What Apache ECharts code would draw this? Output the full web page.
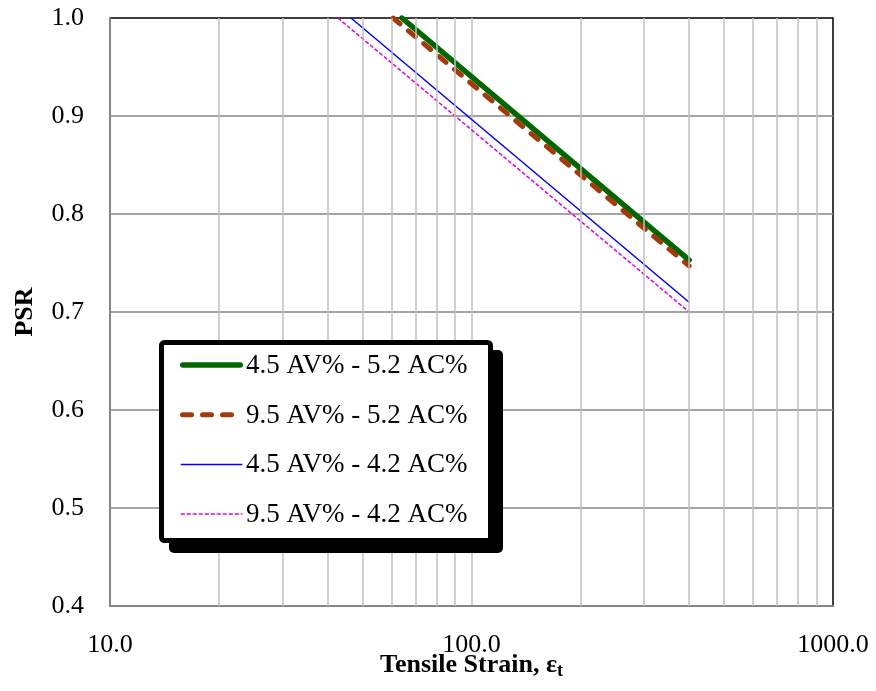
<!DOCTYPE html>
<html>
<head>
<meta charset="utf-8">
<script src="https://cdn.jsdelivr.net/npm/echarts@6/dist/echarts.min.js"></script>
<style>
  html, body { margin: 0; padding: 0; background: #fff; }
  #chart { width: 876px; height: 691px; }
</style>
</head>
<body>
<div id="chart"></div>
<script>
// Series names (mix labels)
const seriesNames = [
  '4.5 AV% - 5.2 AC%',
  '9.5 AV% - 5.2 AC%',
  '4.5 AV% - 4.2 AC%',
  '9.5 AV% - 4.2 AC%'
];

// Tensile strain (x) and PSR (y) end points of each line
const strainA = [64.2, 400];
const psrA    = [1.0, 0.753];
const strainB = [60.7, 400];
const psrB    = [1.0, 0.747];
const strainC = [46.4, 400];
const psrC    = [1.0, 0.710];
const strainD = [42.7, 400];
const psrD    = [1.0, 0.700];

// Log-scale minor gridline positions
const minorGridX = [20, 30, 40, 50, 60, 70, 80, 90, 200, 300, 400, 500, 600, 700, 800, 900];

const FONT = '"Liberation Serif", "Times New Roman", serif';

// Line styles shared by the plotted series and the legend keys
const lineStyles = [
  { stroke: '#006600', lineWidth: 5.5, lineCap: 'round', lineDash: null },
  { stroke: '#a33a0a', lineWidth: 5, lineCap: 'round', lineDash: [9, 11] },
  { stroke: '#0000ee', lineWidth: 1.5, lineCap: 'butt', lineDash: null },
  { stroke: '#dd00dd', lineWidth: 1.5, lineCap: 'butt', lineDash: [4, 2] }
];
const seriesZ = [3, 4, 3, 3];

function pairs(xs, ys) {
  return xs.map((x, i) => [x, ys[i]]);
}

const seriesData = [
  pairs(strainA, psrA),
  pairs(strainB, psrB),
  pairs(strainC, psrC),
  pairs(strainD, psrD)
];

const lineSeries = seriesNames.map((name, i) => ({
  name,
  type: 'line',
  data: seriesData[i],
  symbol: 'none',
  z: seriesZ[i],
  lineStyle: {
    color: lineStyles[i].stroke,
    width: lineStyles[i].lineWidth,
    cap: lineStyles[i].lineCap,
    type: lineStyles[i].lineDash || 'solid'
  },
  itemStyle: { color: lineStyles[i].stroke }
}));

// Boxed legend with a heavy drop shadow
const legendBox = { x: 161.5, y: 342.5, w: 329, h: 198, shadow: 10, rowStep: 49.7, firstRow: 366 };
const legendElements = [
  {
    type: 'rect', z: 50, silent: true,
    shape: { x: legendBox.x - 2.5 + legendBox.shadow, y: legendBox.y - 2.5 + legendBox.shadow,
             width: legendBox.w + 5, height: legendBox.h + 5, r: 5 },
    style: { fill: '#000000' }
  },
  {
    type: 'rect', z: 51, silent: true,
    shape: { x: legendBox.x, y: legendBox.y, width: legendBox.w, height: legendBox.h, r: 3 },
    style: { fill: '#ffffff', stroke: '#000000', lineWidth: 5 }
  }
];
seriesNames.forEach((name, i) => {
  const cy = legendBox.firstRow + i * legendBox.rowStep;
  const st = lineStyles[i];
  legendElements.push({
    type: 'line', z: 52, silent: true,
    shape: { x1: 181 + st.lineWidth / 2 - 1, y1: cy - 1, x2: 242 - st.lineWidth / 2 + 1, y2: cy - 1 },
    style: { stroke: st.stroke, lineWidth: st.lineWidth, lineCap: st.lineCap, lineDash: st.lineDash }
  });
  legendElements.push({
    type: 'text', z: 52, silent: true,
    x: 246, y: cy,
    style: { text: name, fill: '#000000', font: '27px ' + FONT, verticalAlign: 'middle', align: 'left' }
  });
});

const chart = echarts.init(document.getElementById('chart'));

chart.setOption({
  animation: false,
  backgroundColor: '#ffffff',
  grid: {
    left: 110, right: 43, top: 18, bottom: 85,
    outerBoundsMode: 'none',
    containLabel: false,
    show: true,
    borderColor: '#000000',
    borderWidth: 1.5,
    backgroundColor: 'transparent'
  },
  xAxis: {
    type: 'log',
    logBase: 10,
    min: 10,
    max: 1000,
    name: '{n|Tensile Strain, ε}{s|t}',
    nameLocation: 'middle',
    nameGap: 44,
    nameMoveOverlap: false,
    nameTextStyle: {
      rich: {
        n: { fontFamily: FONT, fontSize: 26, fontWeight: 'bold', color: '#000' },
        s: { fontFamily: FONT, fontSize: 18, fontWeight: 'bold', color: '#000', padding: [12, 0, 0, 0] }
      }
    },
    axisLine: { show: true, lineStyle: { color: '#868686', width: 2 } },
    axisTick: { show: false },
    axisLabel: {
      fontFamily: FONT, fontSize: 26, color: '#000', margin: 26,
      formatter: v => Number(v).toFixed(1)
    },
    splitLine: { show: true, showMinLine: false, showMaxLine: false, lineStyle: { color: '#c0c0c0', width: 1.5 } },
    minorTick: { show: false },
    minorSplitLine: { show: false }
  },
  yAxis: {
    type: 'value',
    min: 0.4,
    max: 1.0,
    interval: 0.1,
    name: 'PSR',
    nameLocation: 'middle',
    nameGap: 72,
    nameMoveOverlap: false,
    nameTextStyle: { fontFamily: FONT, fontSize: 26, fontWeight: 'bold', color: '#000' },
    axisLine: { show: true, lineStyle: { color: '#868686', width: 2 } },
    axisTick: { show: false },
    axisLabel: {
      fontFamily: FONT, fontSize: 26, color: '#000', margin: 26,
      formatter: v => Number(v).toFixed(1)
    },
    splitLine: { show: true, showMinLine: false, showMaxLine: false, lineStyle: { color: '#868686', width: 1.5 } }
  },
  graphic: { elements: legendElements },
  series: [
    {
      // minor vertical gridlines of the log axis
      name: 'grid-minor',
      type: 'line',
      data: [],
      silent: true,
      z: 1,
      markLine: {
        silent: true,
        symbol: 'none',
        label: { show: false },
        lineStyle: { color: '#c0c0c0', width: 1.5, type: 'solid' },
        data: minorGridX.map(v => ({ xAxis: v }))
      }
    }
  ].concat(lineSeries)
});
</script>
</body>
</html>
